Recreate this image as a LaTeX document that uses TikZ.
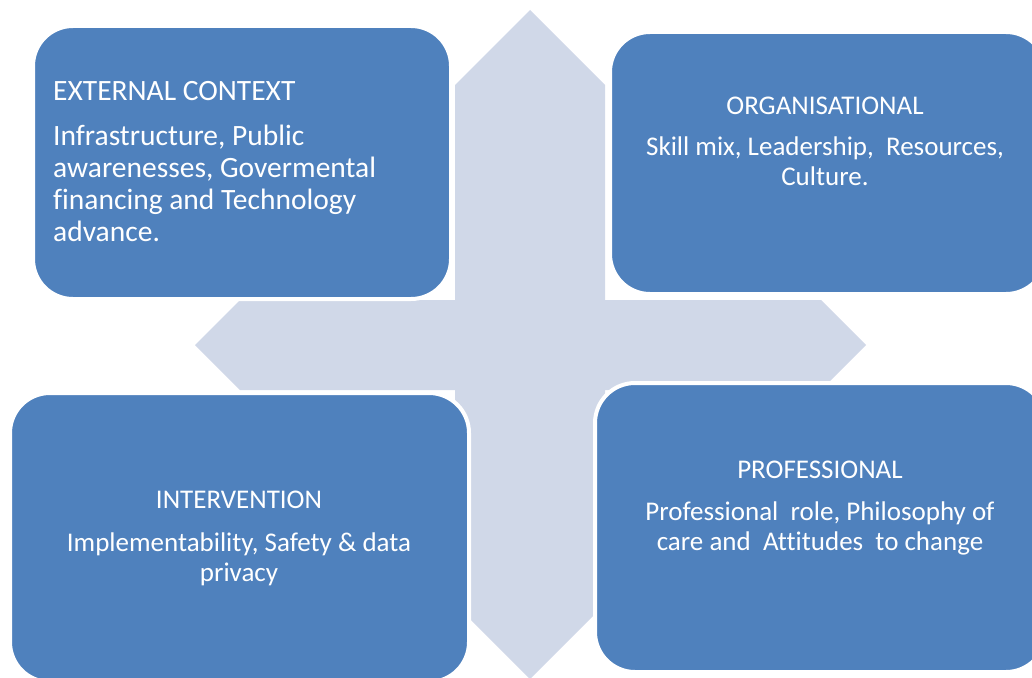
\documentclass[tikz,border=0pt]{standalone}
\usepackage{fontspec}
\setmainfont{Carlito}[Ligatures=NoCommon]
\definecolor{boxblue}{HTML}{4F81BD}
\definecolor{crossgray}{HTML}{D0D8E8}

\begin{document}
\begin{tikzpicture}[x=1pt,y=-1pt,
	factor/.style={fill=boxblue, draw=white, line width=4pt, rounded corners=40pt},
	label/.style={inner sep=0pt, text=white, font=\fontsize{27}{30}\selectfont}]

	\useasboundingbox (0,0) rectangle (1032,677);

	% four-way arrow behind the boxes
	\fill [crossgray] (530,10) -- (605,85) -- (605,300) -- (821,300) -- (866,345)
		-- (821,390) -- (605,390) -- (605,604) -- (530,679) -- (455,604)
		-- (455,390) -- (240,390) -- (195,345) -- (240,300) -- (455,300)
		-- (455,85) -- cycle;

	% the four boxes
	\draw [factor] (33,26) rectangle (451,299);
	\draw [factor] (610,32) rectangle (1046,294);
	\draw [factor] (10,393) rectangle (469,682);
	\draw [factor] (595,383) rectangle (1046,672);

	\node [label, anchor=north west, align=left, font=\fontsize{29.5}{32}\selectfont] (external) at (53,81)
		{EXTERNAL CONTEXT\\[13pt]Infrastructure, Public\\awarenesses, Govermental\\financing and Technology\\advance.};
	\node [label, anchor=north, align=center] (organisational) at (825,97)
		{ORGANISATIONAL\\[11pt]Skill mix, Leadership,\ \ Resources,\\Culture.};
	\node [label, anchor=north, align=center] (intervention) at (239,491)
		{INTERVENTION\\[13pt]Implementability, Safety \& data\\privacy};
	\node [label, anchor=north, align=center] (professional) at (820,461)
		{PROFESSIONAL\\[12pt]Professional\ \ role, Philosophy of\\care and\ \ Attitudes\ \ to change};

\end{tikzpicture}
\end{document}
